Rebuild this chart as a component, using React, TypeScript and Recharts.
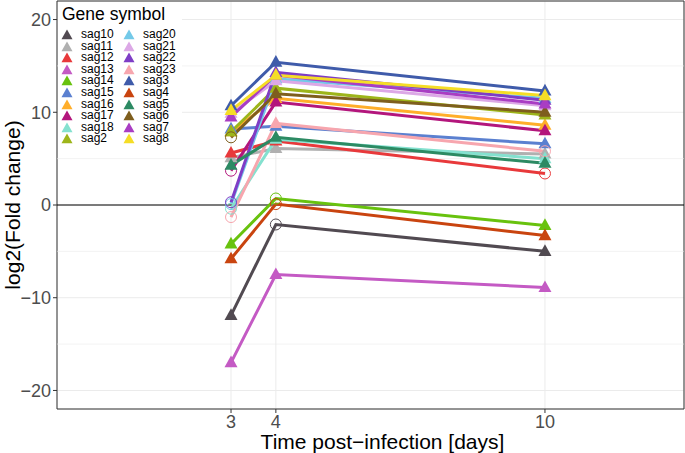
import { LineChart, Line, XAxis, YAxis, CartesianGrid, ReferenceLine, ReferenceArea } from 'recharts';

const days = [3, 4, 10];

const genes = [
    'sag10', 'sag11', 'sag12', 'sag13', 'sag14', 'sag15', 'sag16', 'sag17', 'sag18', 'sag2',
    'sag20', 'sag21', 'sag22', 'sag23', 'sag3', 'sag4', 'sag5', 'sag6', 'sag7', 'sag8'
];

// log2 fold change per gene (same order as genes)
const day3 = [-11.9, 5.1, 5.6, -17.0, -4.2, 8.2, 7.9, 3.7, -0.4, 7.9, 0.1, 9.9, 0.3, -1.3, 10.7, -5.8, 4.3, 7.3, 9.5, 10.2];
const day4 = [-2.1, 6.1, 6.9, -7.5, 0.7, 8.5, 11.5, 11.1, 7.1, 12.6, 13.6, 13.4, 14.3, 8.8, 15.4, 0.1, 7.3, 12.0, 14.0, 14.0];
const day10 = [-5.0, 5.5, 3.4, -8.9, -2.2, 6.6, 8.6, 8.0, 5.0, 9.7, 11.5, 10.7, 11.3, 5.8, 12.3, -3.3, 4.5, 10.0, 10.9, 11.8];

// significant (triangle) or not (open circle)
const sig3 = [1, 1, 1, 1, 1, 1, 1, 0, 0, 1, 0, 1, 0, 0, 1, 1, 1, 0, 1, 1];
const sig4 = [0, 1, 1, 1, 0, 1, 1, 1, 1, 1, 1, 1, 1, 1, 1, 0, 1, 1, 1, 1];
const sig10 = [1, 1, 0, 1, 1, 1, 1, 1, 1, 1, 1, 1, 1, 0, 1, 1, 1, 1, 1, 1];

const yTicks = [-20, -10, 0, 10, 20];
const yMinor = [-15, -5, 5, 15];

const COLORS = [
    '#514A51', '#B0B0B0', '#E8393B', '#C45AC4', '#68C20E', '#5B80D0', '#FFAE2A', '#B3167C', '#84E1CF', '#9DB51A',
    '#73C9E8', '#DCA8E6', '#7E3DC6', '#F7A6AE', '#3F5BAA', '#C9440F', '#2C8A63', '#7E5E1E', '#A93DC3', '#F5DD26'
];

const valuesByDay = [day3, day4, day10];
const sigByDay = [sig3, sig4, sig10];

const chartData = days.map((day, d) => {
    const row: Record<string, number> = { day };
    genes.forEach((g, i) => { row[g] = valuesByDay[d][i]; });
    return row;
});

const FONT = '"Liberation Sans", Arial, Helvetica, sans-serif';

function Triangle({ x, y, color, s = 6.5 }: { x: number; y: number; color: string; s?: number }) {
    return <polygon points={`${x},${y - s * 1.1} ${x - s},${y + s * 0.7} ${x + s},${y + s * 0.7}`} fill={color} />;
}

function makeDot(geneIndex: number) {
    const color = COLORS[geneIndex];
    return (props: any) => {
        const { cx, cy, index } = props;
        if (cx == null || cy == null) return <g key={`d-${geneIndex}-${index}`} />;
        const sig = sigByDay[index][geneIndex];
        if (sig) return <Triangle key={`d-${geneIndex}-${index}`} x={cx} y={cy} color={color} />;
        return <circle key={`d-${geneIndex}-${index}`} cx={cx} cy={cy} r={5.5} fill="none" stroke={color} strokeWidth={1} />;
    };
}

function GeneLegend() {
    return (
        <div style={{ position: 'absolute', left: 58, top: 2, width: 124, height: 146, background: '#fff', fontFamily: FONT }}>
            <div style={{ position: 'absolute', left: 4, top: 2, fontSize: 17.5, lineHeight: '20px', color: '#000' }}>Gene symbol</div>
            {genes.map((g, i) => {
                const col = i < 10 ? 0 : 1;
                const row = i % 10;
                const left = col === 0 ? 0 : 62;
                const top = 27 + row * 11.6;
                return (
                    <div key={g} style={{ position: 'absolute', left, top, height: 11 }}>
                        <svg width={20} height={12} style={{ position: 'absolute', left: 2, top: 0 }}>
                            <Triangle x={7} y={6.5} color={COLORS[i]} s={5.5} />
                        </svg>
                        <span style={{ position: 'absolute', left: 23, top: 0, fontSize: 12, lineHeight: '11px', color: '#000', whiteSpace: 'nowrap' }}>{g}</span>
                    </div>
                );
            })}
        </div>
    );
}

export default function App() {
    return (
        <div style={{ position: 'absolute', left: 0, top: 0, width: 685, height: 453, background: '#fff' }}>
            <LineChart width={685} height={453} data={chartData} margin={{ top: 1, right: 1, bottom: 0, left: 0 }}>
                <CartesianGrid stroke="#EBEBEB" strokeWidth={1} />
                {yMinor.map(v => (
                    <ReferenceLine key={v} y={v} stroke="#EBEBEB" strokeWidth={0.6} />
                ))}
                <XAxis
                    dataKey="day"
                    type="number"
                    domain={[-0.88, 13.1]}
                    ticks={days}
                    allowDataOverflow
                    height={44}
                    axisLine={false}
                    tickLine={{ stroke: '#333333' }}
                    tickSize={4}
                    tickMargin={2}
                    tick={{ fill: '#4D4D4D', fontSize: 18, fontFamily: FONT }}
                    label={({ viewBox }: any) => (
                        <text x={viewBox.x + viewBox.width / 2 + 12} y={449} textAnchor="middle" fontSize={21} fontFamily={FONT} fill="#000">
                            Time post−infection [days]
                        </text>
                    )}
                />
                <YAxis
                    type="number"
                    domain={[-22, 22]}
                    ticks={yTicks}
                    allowDataOverflow
                    width={57}
                    axisLine={false}
                    tickLine={{ stroke: '#333333' }}
                    tickSize={4}
                    tickMargin={2}
                    tick={{ fill: '#4D4D4D', fontSize: 18, fontFamily: FONT }}
                    tickFormatter={(v: number) => (v < 0 ? `−${Math.abs(v)}` : `${v}`)}
                    label={({ viewBox }: any) => (
                        <text x={20} y={viewBox.y + viewBox.height / 2} textAnchor="middle" fontSize={21} fontFamily={FONT} fill="#000" transform={`rotate(-90 20 ${viewBox.y + viewBox.height / 2})`}>
                            log2(Fold change)
                        </text>
                    )}
                />
                <ReferenceLine y={0} stroke="#000" strokeWidth={1} />
                {genes.map((g, i) => (
                    <Line key={`l-${g}`} dataKey={g} stroke={COLORS[i]} strokeWidth={3} dot={false} activeDot={false} isAnimationActive={false} />
                ))}
                {genes.map((g, i) => (
                    <Line key={`p-${g}`} dataKey={g} stroke="none" strokeWidth={0} dot={makeDot(i)} activeDot={false} isAnimationActive={false} />
                ))}
                <ReferenceArea x1={-0.88} x2={13.1} y1={-22} y2={22} fill="none" stroke="#333333" strokeWidth={1} ifOverflow="visible" />
            </LineChart>
            <GeneLegend />
        </div>
    );
}
